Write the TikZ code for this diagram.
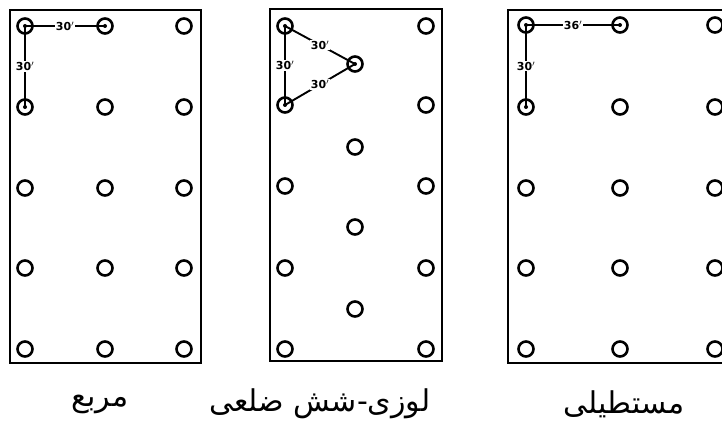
\documentclass[tikz,border=0pt]{standalone}
\usepackage{fontspec}
\TeXXeTstate=1
\newfontfamily\arabicfont[Script=Arabic]{DejaVu Sans}
\newfontfamily\dimfont{DejaVu Sans}
\begin{document}
\begin{tikzpicture}[x=1pt,y=1pt,
  hole/.style={circle,draw,line width=2.6pt,minimum size=15pt,inner sep=0pt},
  frame/.style={line width=2.8pt},
  dimline/.style={line width=1.9pt},
  dimlab/.style={fill=white,inner sep=1pt,font=\dimfont\bfseries\fontsize{11}{11}\selectfont},
  caption/.style={font=\arabicfont\fontsize{30}{34}\selectfont}
]
\useasboundingbox (0,0) rectangle (722,-422);
\begin{scope}
\clip (0,0) rectangle (722,-422);
% frames
\draw[frame] (10,-10) rectangle (201,-363);
\draw[frame] (270,-9) rectangle (442,-361);
\draw[frame] (508,-10) rectangle (760,-363);
\end{scope}
% box 1 holes
\foreach \c/\x in {1/25,2/105,3/184}{
  \foreach \r/\y in {1/26,2/107,3/188,4/268,5/349}{
    \node[hole] (a\r\c) at (\x,-\y) {};
  }
}
% box 2 holes
\foreach \c/\x in {1/285,3/426}{
  \foreach \r/\y in {1/26,2/105,3/186,4/268,5/349}{
    \node[hole] (b\r\c) at (\x,-\y) {};
  }
}
\foreach \r/\y in {1/64,2/147,3/227,4/309}{
  \node[hole] (m\r) at (355,-\y) {};
}
% box 3 holes
\foreach \c/\x in {1/526,2/620,3/715}{
  \foreach \r/\y in {1/25,2/107,3/188,4/268,5/349}{
    \node[hole] (c\r\c) at (\x,-\y) {};
  }
}
% centre dots
\foreach \n in {a11,a12,a21,b11,b21,m1,c11,c12,c21}{
  \fill (\n.center) circle (2);
}
% dimensions box 1
\draw[dimline] (a11.center) -- node[dimlab] {30$'$} (a12.center);
\draw[dimline] (a11.center) -- node[dimlab] {30$'$} (a21.center);
% dimensions box 2
\draw[dimline] (b11.center) -- node[dimlab] {30$'$} (m1.center);
\draw[dimline] (b11.center) -- node[dimlab] {30$'$} (b21.center);
\draw[dimline] (b21.center) -- node[dimlab] {30$'$} (m1.center);
% dimensions box 3
\draw[dimline] (c11.center) -- node[dimlab] {36$'$} (c12.center);
\draw[dimline] (c11.center) -- node[dimlab] {30$'$} (c21.center);
% captions
\node[caption] (t1) at (100,-404) {\beginR مربع\endR};
\node[caption] (t2) at (320,-404) {\beginR لوزی-شش ضلعی\endR};
\node[caption] (t3) at (624,-404) {\beginR مستطیلی\endR};
\end{tikzpicture}
\end{document}
